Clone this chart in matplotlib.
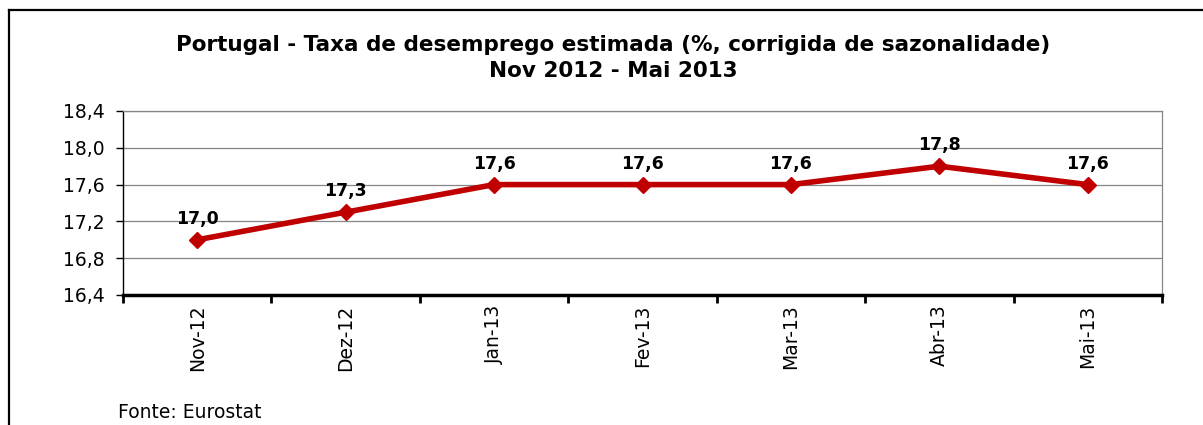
import matplotlib
matplotlib.use("Agg")
import matplotlib.pyplot as plt
from matplotlib.lines import Line2D
from matplotlib.ticker import FixedLocator, NullFormatter

categories = ["Nov-12", "Dez-12", "Jan-13", "Fev-13", "Mar-13", "Abr-13", "Mai-13"]
values = [17.0, 17.3, 17.6, 17.6, 17.6, 17.8, 17.6]
yticks = [16.4, 16.8, 17.2, 17.6, 18.0, 18.4]
title = "Portugal - Taxa de desemprego estimada (%, corrigida de sazonalidade)\nNov 2012 - Mai 2013"
source = "Fonte: Eurostat"

W, H = 1203, 425
fig = plt.figure(figsize=(W / 100, H / 100), dpi=100)
fig.patch.set_facecolor("white")

# outer chart border (top and left visible)
fig.add_artist(Line2D([9 / W, 1.0], [1 - 10 / H, 1 - 10 / H], transform=fig.transFigure, color="black", lw=1.6))
fig.add_artist(Line2D([9 / W, 9 / W], [0, 1 - 10 / H], transform=fig.transFigure, color="black", lw=1.6))

l, r, t, b = 123, 1162, 111, 295
ax = fig.add_axes([l / W, 1 - b / H, (r - l) / W, (b - t) / H])

x = list(range(len(categories)))
ax.plot(x, values, color="#C00000", lw=4, marker="D", markersize=8.5, zorder=3)

ax.set_xlim(-0.5, len(categories) - 0.5)
ax.set_ylim(yticks[0], yticks[-1])
ax.set_yticks(yticks)
ax.set_yticklabels([f"{v:.1f}".replace(".", ",") for v in yticks], fontsize=13.5)
ax.yaxis.grid(True, color="#868686", lw=0.9)
ax.set_axisbelow(True)

ax.xaxis.set_major_locator(FixedLocator([i - 0.5 for i in range(len(categories) + 1)]))
ax.xaxis.set_major_formatter(NullFormatter())
ax.xaxis.set_minor_locator(FixedLocator(x))
ax.set_xticklabels(categories, minor=True, rotation=90, fontsize=13.5)
ax.tick_params(axis="x", which="major", length=6, width=2, direction="out")
ax.tick_params(axis="x", which="minor", length=0, pad=7)
ax.tick_params(axis="y", length=5, width=1, direction="out", pad=8)

ax.spines["bottom"].set_linewidth(2.5)
ax.spines["left"].set_linewidth(1)
ax.spines["top"].set_color("#868686")
ax.spines["right"].set_color("#868686")
ax.spines["top"].set_linewidth(0.9)
ax.spines["right"].set_linewidth(0.9)

for xi, v in zip(x, values):
    ax.annotate(f"{v:.1f}".replace(".", ","), (xi, v), xytext=(0, 8.5), textcoords="offset points",
                ha="center", va="bottom", fontsize=12.5, fontweight="bold")

fig.text(613 / W, 1 - 58 / H, title, ha="center", va="center", fontsize=15.5, fontweight="bold", linespacing=1.4)
fig.text(118 / W, 1 - 413 / H, source, ha="left", va="center", fontsize=13.5)

fig.savefig("out.png", dpi=100)
